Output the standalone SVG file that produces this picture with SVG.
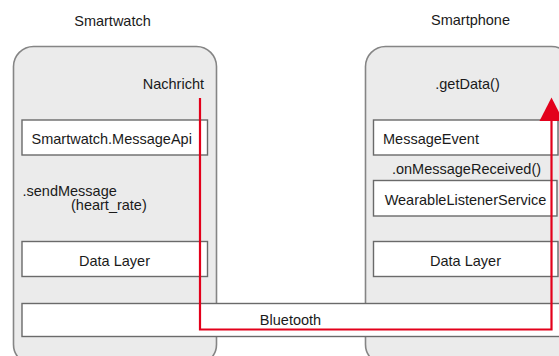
<svg xmlns="http://www.w3.org/2000/svg" width="559" height="356" viewBox="0 0 559 356">
<defs>
<style>
text{font-family:"Liberation Sans",Arial,sans-serif;font-size:14.5px;fill:#1a1a1a}
.panel{fill:#ebebeb;stroke:#858585;stroke-width:1.6}
.box{fill:#fff;stroke:#6a6a6a;stroke-width:1.4}
.mid{text-anchor:middle}
.flow{fill:none;stroke:#e3001b;stroke-width:2.2}
</style>
</defs>
<rect width="559" height="356" fill="#fff"/>
<g id="smartwatch">
<text class="mid" x="112.5" y="26">Smartwatch</text>
<rect class="panel" x="13.5" y="46.5" width="203" height="318" rx="20"/>
<text x="204" y="88.5" text-anchor="end">Nachricht</text>
</g>
<g id="smartphone">
<text class="mid" x="470.5" y="24.5">Smartphone</text>
<rect class="panel" x="365.5" y="46.5" width="206" height="318" rx="20"/>
<text class="mid" x="467.5" y="88.5">.getData()</text>
</g>
<g id="messageapi">
<rect class="box" x="22" y="120" width="185.5" height="35"/>
<text x="31.5" y="143.5">Smartwatch.MessageApi</text>
</g>
<g id="sendmessage">
<text x="22.5" y="196">.sendMessage</text>
<text x="71" y="210">(heart_rate)</text>
</g>
<g id="datalayer-left">
<rect class="box" x="22" y="241.5" width="185.5" height="35"/>
<text class="mid" x="114.5" y="266">Data Layer</text>
</g>
<g id="messageevent">
<rect class="box" x="373.5" y="120" width="184.5" height="35"/>
<text x="383" y="144">MessageEvent</text>
</g>
<g id="onmessagereceived">
<text class="mid" x="466.5" y="173.5">.onMessageReceived()</text>
</g>
<g id="wearablelistenerservice">
<rect class="box" x="373.5" y="180.5" width="183.5" height="35.5"/>
<text class="mid" x="465.5" y="204.5">WearableListenerService</text>
</g>
<g id="datalayer-right">
<rect class="box" x="373.5" y="241.5" width="184.5" height="35"/>
<text class="mid" x="465.5" y="266">Data Layer</text>
</g>
<g id="bluetooth">
<rect class="box" x="22" y="303.5" width="540" height="33"/>
<text class="mid" x="290.5" y="325">Bluetooth</text>
</g>
<g id="connectors">
<polyline class="flow" points="200,98 200,329.5 551.5,329.5 551.5,119"/>
<polygon points="551.5,97.5 539.5,121 563.5,121" fill="#e3001b"/>
</g>
</svg>
